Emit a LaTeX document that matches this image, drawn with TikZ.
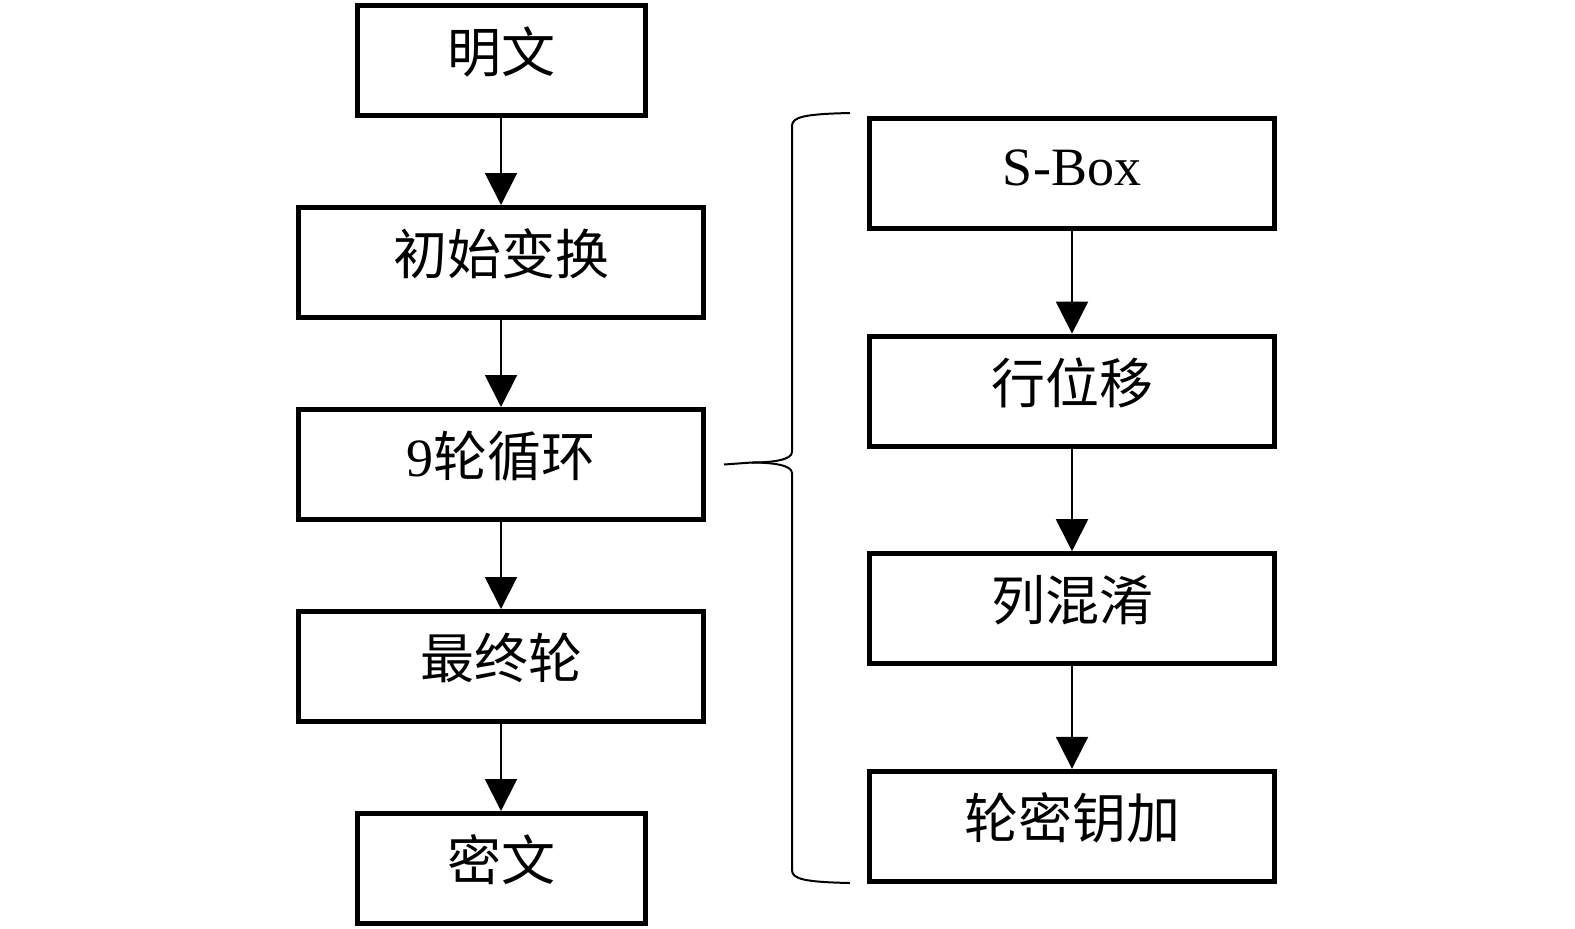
\documentclass[tikz,border=0pt]{standalone}
\usepackage{fontspec}
\setmainfont{Liberation Serif}
\newfontfamily\cjk{Noto Sans CJK SC}
\usepackage{tikz}
\usetikzlibrary{positioning,arrows.meta}

\begin{document}
\begin{tikzpicture}[
			narrowbox/.style={rectangle, draw=black, line width=2.5pt, minimum width=144pt, minimum height=55pt, inner sep=0pt, text height=18pt, text depth=6pt, font=\fontsize{27}{30}\selectfont},
			widebox/.style={narrowbox, minimum width=202.5pt},
			flow/.style={-{Triangle[width=16pt,length=16pt]}, line width=1pt},
			node distance=43.5pt,
		]
		
			\useasboundingbox (0pt,0pt) rectangle (787.5pt,-464pt);
		
			%Nodes
			\node[narrowbox]	(plain)	at (250.5pt,-30.25pt)	{\cjk 明文};
			\node[widebox]		(init)	[below=of plain]	{\cjk 初始变换};
			\node[widebox]		(loop)	[below=of init]		{9{\cjk 轮循环}};
			\node[widebox]		(final)	[below=of loop]		{\cjk 最终轮};
			\node[narrowbox]	(cipher)	[below=of final]	{\cjk 密文};
		
			\node[widebox]		(sbox)	at (536pt,-86.75pt)	{S-Box};
			\node[widebox]		(shift)	[below=51.3pt of sbox]	{\cjk 行位移};
			\node[widebox]		(mix)	[below=51.3pt of shift]	{\cjk 列混淆};
			\node[widebox]		(addkey)	[below=51.3pt of mix]	{\cjk 轮密钥加};
		
			%Lines
			\draw[flow]	(plain.south) -- (init.north);
			\draw[flow]	(init.south) -- (loop.north);
			\draw[flow]	(loop.south) -- (final.north);
			\draw[flow]	(final.south) -- (cipher.north);
		
			\draw[flow]	(sbox.south) -- (shift.north);
			\draw[flow]	(shift.south) -- (mix.north);
			\draw[flow]	(mix.south) -- (addkey.north);
		
			%Brace
			\coordinate (tip) at ([xshift=9pt]loop.east);
			\draw[line width=1pt]
				(425pt,-56.5pt) .. controls (402pt,-57pt) and (396pt,-58.5pt) .. (396pt,-63pt)
				-- (396pt,-226pt) .. controls (396pt,-230pt) and (386pt,-231.25pt) .. (376pt,-231.25pt)
				-- (tip);
			\draw[line width=1pt]
				(425pt,-441.5pt) .. controls (402pt,-441pt) and (396pt,-439.5pt) .. (396pt,-435pt)
				-- (396pt,-236.5pt) .. controls (396pt,-232.5pt) and (386pt,-231.25pt) .. (376pt,-231.25pt);
		
		\end{tikzpicture}
\end{document}
